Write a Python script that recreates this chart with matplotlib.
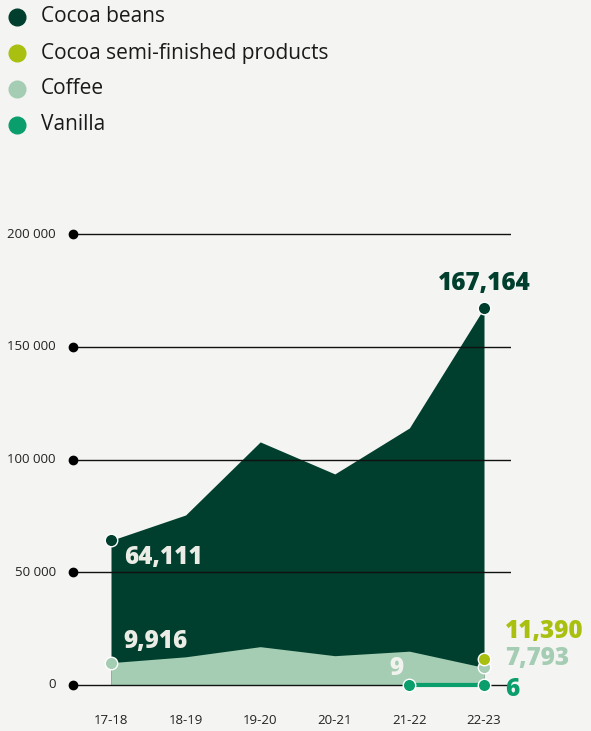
import numpy as np
import matplotlib
matplotlib.use("Agg")
import matplotlib.pyplot as plt

# === data ===
years = ["17-18", "18-19", "19-20", "20-21", "21-22", "22-23"]
cocoa_beans = [64111, 75400, 107800, 93600, 114000, 167164]
coffee = [9916, 12500, 17000, 13000, 15000, 7793]
semi_year = ["22-23"]
semi_values = [11390]
vanilla_years = ["21-22", "22-23"]
vanilla = [9, 6]
y_ticks = [0, 50000, 100000, 150000, 200000]
y_tick_labels = ["0", "50 000", "100 000", "150 000", "200 000"]

c_beans = "#003f2d"
c_semi = "#a9c011"
c_coffee = "#a4cdb3"
c_vanilla = "#0b9e6d"
bg = "#f4f4f2"

plt.rcParams['font.family'] = ['Open Sans', 'DejaVu Sans']

W, H = 591, 731
fig = plt.figure(figsize=(W / 100, H / 100), dpi=100, facecolor=bg)

# axes placed in pixel coordinates
left_px, right_px, top_px, bot_px = 73, 511, 225, 700
ax = fig.add_axes([left_px / W, 1 - bot_px / H, (right_px - left_px) / W, (bot_px - top_px) / H])
ax.set_facecolor(bg)
ax.axis("off")

x = np.arange(len(years))
# y=0 at 685px, 200000 at 234px
scale = 200000 / (685 - 234)
ax.set_ylim(-(bot_px - 685) * scale, 200000 + (234 - top_px) * scale)
step = (484 - 111) / 5
ax.set_xlim(-(111 - left_px) / step, 5 + (right_px - 484) / step)

# areas
ax.fill_between(x, 0, cocoa_beans, color=c_beans, lw=0, zorder=1)
ax.fill_between(x, 0, coffee, color=c_coffee, lw=0, zorder=2)

# gridlines with dot at the left
for t, tl in zip(y_ticks, y_tick_labels):
    ax.axhline(t, color="#111111", lw=1, zorder=3)
    ax.plot(-(111 - left_px) / step, t, "o", color="black", ms=6, zorder=4, clip_on=False)
    ax.text(-(111 - 56) / step, t, tl, ha="right", va="center", fontsize=9.5, color="#222222")

# x labels
for i, yr in enumerate(years):
    ax.text(i, -15700, yr, ha="center", va="center", fontsize=9.5, color="#222222")

# vanilla line
vx = [years.index(v) for v in vanilla_years]
ax.plot(vx, vanilla, color=c_vanilla, lw=3, zorder=5)
ax.plot(vx, vanilla, "o", color=c_vanilla, ms=9, mec="white", mew=1, zorder=6)

# markers
ax.plot([0, 5], [cocoa_beans[0], cocoa_beans[-1]], "o", color=c_beans, ms=9, mec="white", mew=1, zorder=6)
ax.plot([0, 5], [coffee[0], coffee[-1]], "o", color=c_coffee, ms=9, mec="white", mew=1, zorder=6)
sx = [years.index(s) for s in semi_year]
ax.plot(sx, semi_values, "o", color=c_semi, ms=9, mec="white", mew=1, zorder=6)

# value labels
lab = dict(fontsize=17.5, fontweight="heavy", zorder=7)
ax.text(0.17, cocoa_beans[0] - 7600, f"{cocoa_beans[0]:,}", color="#ececE6", ha="left", va="center", **lab)
ax.text(0.17, coffee[0] + 9200, f"{coffee[0]:,}", color="#ececE6", ha="left", va="center", **lab)
ax.text(5, cocoa_beans[-1] + 10900, f"{cocoa_beans[-1]:,}", color=c_beans, ha="center", va="center", **lab)
ax.text(5.28, semi_values[0] + 12400, f"{semi_values[0]:,}", color=c_semi, ha="left", va="center", **lab)
ax.text(5.28, coffee[-1] + 3900, f"{coffee[-1]:,}", color=c_coffee, ha="left", va="center", **lab)
ax.text(5.28, -1900, f"{vanilla[-1]}", color=c_vanilla, ha="left", va="center", **lab)
ax.text(3.92, 7300, f"{vanilla[0]}", color="#f2f2ee", ha="right", va="center", **lab)

# legend
names = ["Cocoa beans", "Cocoa semi-finished products", "Coffee", "Vanilla"]
cols = [c_beans, c_semi, c_coffee, c_vanilla]
for i, (n, c) in enumerate(zip(names, cols)):
    yp = 17 + 36 * i
    fig.add_artist(plt.Line2D([17 / W], [1 - yp / H], marker="o", ms=12, color=c, lw=0))
    fig.text(41 / W, 1 - yp / H, n, ha="left", va="center", fontsize=15, color="#1a1a1a")

fig.savefig("out.png", dpi=100, facecolor=bg)
